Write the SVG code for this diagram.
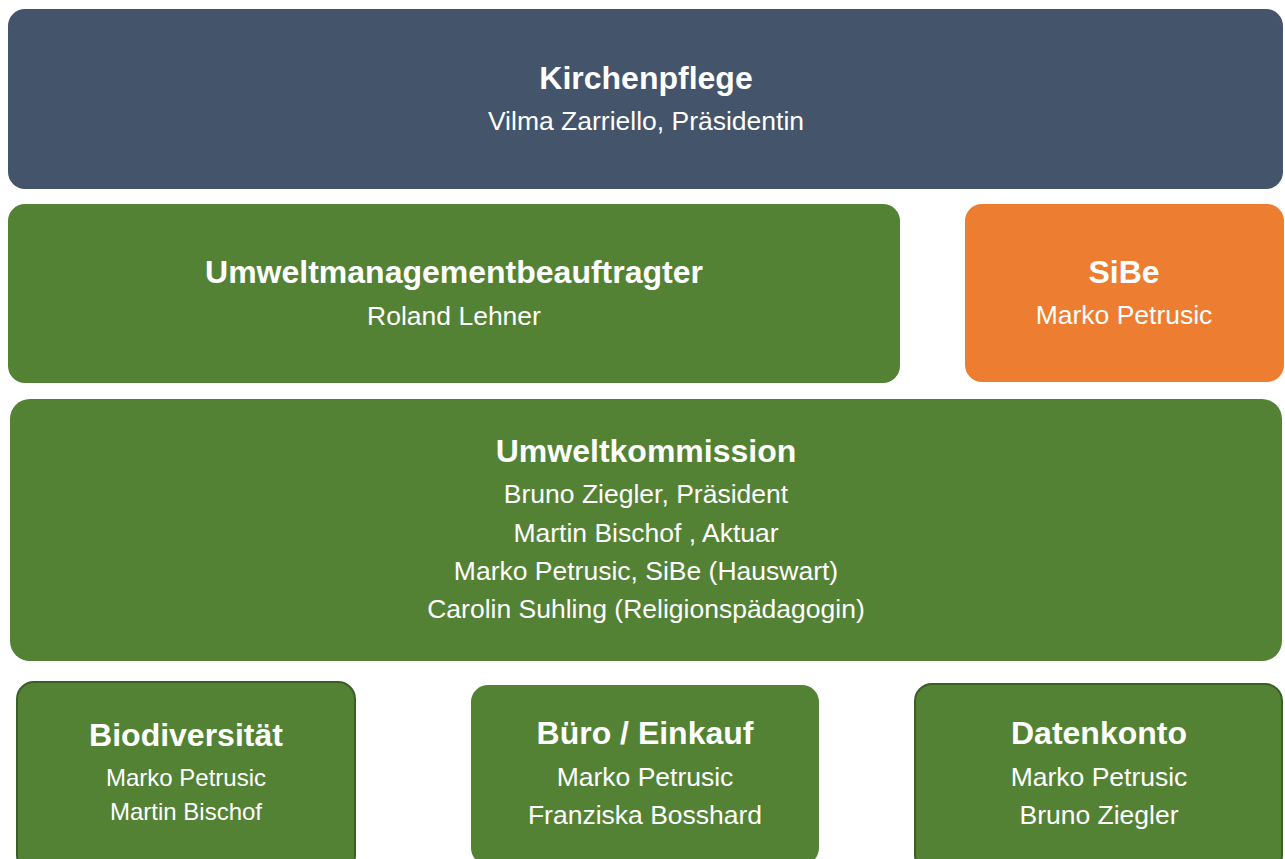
<svg xmlns="http://www.w3.org/2000/svg" width="1285" height="859" viewBox="0 0 1285 859">
<style>
.t{font-family:"Liberation Sans",Arial,sans-serif;font-weight:bold;font-size:32px;fill:#fff;text-anchor:middle}
.s{font-family:"Liberation Sans",Arial,sans-serif;font-size:26.5px;fill:#fff;text-anchor:middle}
.s2{font-family:"Liberation Sans",Arial,sans-serif;font-size:24px;fill:#fff;text-anchor:middle}
.navy{fill:#44546A}
.green{fill:#548235}
.orange{fill:#ED7D31}
.bord{stroke:#3B5E27;stroke-width:2}
</style>
<rect width="1285" height="859" fill="#fff"/>
<g id="connectors"></g>
<g id="kirchenpflege">
<rect class="navy" x="8" y="9" width="1275" height="180" rx="17"/>
<text class="t" x="646" y="89">Kirchenpflege</text>
<text class="s" x="646" y="130">Vilma Zarriello, Präsidentin</text>
</g>
<g id="umweltmanagementbeauftragter">
<rect class="green" x="8" y="204" width="892" height="179" rx="17"/>
<text class="t" x="454" y="283">Umweltmanagementbeauftragter</text>
<text class="s" x="454" y="325">Roland Lehner</text>
</g>
<g id="sibe">
<rect class="orange" x="965" y="204" width="319" height="178" rx="17"/>
<text class="t" x="1124" y="283">SiBe</text>
<text class="s" x="1124" y="324">Marko Petrusic</text>
</g>
<g id="umweltkommission">
<rect class="green" x="10" y="399" width="1272" height="262" rx="20"/>
<text class="t" x="646" y="462">Umweltkommission</text>
<text class="s" x="646" y="503">Bruno Ziegler, Präsident</text>
<text class="s" x="646" y="542">Martin Bischof , Aktuar</text>
<text class="s" x="646" y="580">Marko Petrusic, SiBe (Hauswart)</text>
<text class="s" x="646" y="618">Carolin Suhling (Religionspädagogin)</text>
</g>
<g id="biodiversitaet">
<rect class="green bord" x="17" y="682" width="338" height="190" rx="17"/>
<text class="t" x="186" y="746">Biodiversität</text>
<text class="s2" x="186" y="786">Marko Petrusic</text>
<text class="s2" x="186" y="820">Martin Bischof</text>
</g>
<g id="buero-einkauf">
<rect class="green" x="471" y="685" width="348" height="180" rx="17"/>
<text class="t" x="645" y="744">Büro / Einkauf</text>
<text class="s" x="645" y="786">Marko Petrusic</text>
<text class="s" x="645" y="824">Franziska Bosshard</text>
</g>
<g id="datenkonto">
<rect class="green bord" x="915" y="684" width="367" height="188" rx="17"/>
<text class="t" x="1099" y="744">Datenkonto</text>
<text class="s" x="1099" y="786">Marko Petrusic</text>
<text class="s" x="1099" y="824">Bruno Ziegler</text>
</g>
</svg>
